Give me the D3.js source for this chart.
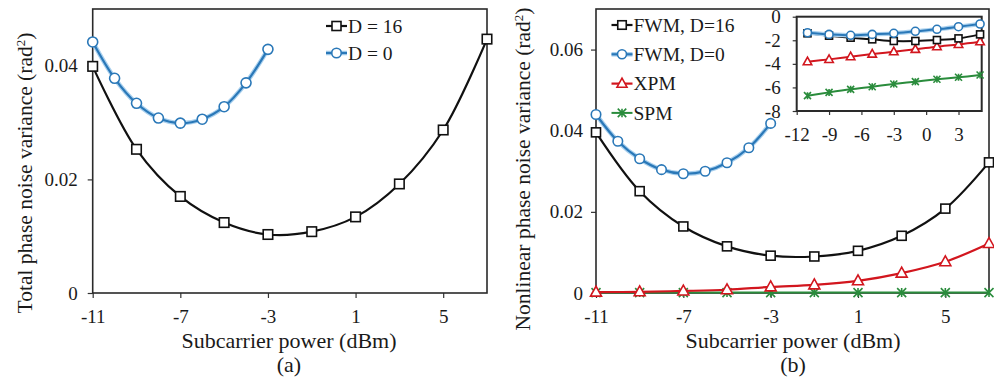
<!DOCTYPE html>
<html>
<head>
<meta charset="utf-8">
<script src="https://cdn.jsdelivr.net/npm/d3@7"></script>
<style>
  body { margin: 0; background: #fff; }
  svg text { font-family: "Liberation Serif", "Times New Roman", serif; fill: #1a1a1a; }
</style>
</head>
<body>
<div id="chart"></div>
<script>
// x values (subcarrier power, dBm)
const powerEven = [-11, -9, -7, -5, -3, -1, 1, 3, 5, 7];
const powerLow = [-11, -10, -9, -8, -7, -6, -5, -4, -3];
const insetPower = [-11, -9, -7, -5, -3, -1, 1, 3, 5];

// (a) total phase noise variance
const totalD16 = [0.0399, 0.0253, 0.0170, 0.0124, 0.0103, 0.0108, 0.0134, 0.0192, 0.0287, 0.0447];
const totalD0 = [0.0442, 0.0378, 0.0334, 0.0308, 0.0299, 0.0306, 0.0328, 0.0370, 0.0429];

// (b) nonlinear phase noise variance
const fwmD16 = [0.0396, 0.0251, 0.0164, 0.0115, 0.0092, 0.0090, 0.0104, 0.0141, 0.0208, 0.0322];
const fwmD0 = [0.0440, 0.0374, 0.0331, 0.0304, 0.0294, 0.0300, 0.0321, 0.0358, 0.0418];
const xpm = [0.0002, 0.0003, 0.0005, 0.0008, 0.0015, 0.0020, 0.0030, 0.0049, 0.0077, 0.0122];
const spm = [0.0001, 0.0001, 0.0001, 0.0001, 0.0001, 0.0001, 0.0001, 0.0001, 0.0001, 0.0001];

// (b) inset, log scale values
const insetFwmD16 = [-1.41, -1.61, -1.78, -1.92, -2.06, -2.06, -1.98, -1.84, -1.50];
const insetFwmD0 = [-1.36, -1.50, -1.58, -1.50, -1.41, -1.24, -1.07, -0.85, -0.62];
const insetXpm = [-3.82, -3.62, -3.39, -3.17, -2.97, -2.77, -2.54, -2.35, -2.12];
const insetSpm = [-6.70, -6.42, -6.16, -5.94, -5.71, -5.51, -5.31, -5.14, -4.95];

// ticks
const mainXTicks = [-11, -7, -3, 1, 5];
const totalYTicks = [0, 0.02, 0.04];
const nonlinYTicks = [0, 0.02, 0.04, 0.06];
const insetXTicks = [-12, -9, -6, -3, 0, 3];
const insetYTicks = [0, -2, -4, -6, -8];

const BLACK = "#111", BLUE = "#2a78b8", HALO = "#a9d0ee", RED = "#d2161e", GREEN = "#2a8c3c";

const svg = d3.select("#chart").append("svg").attr("width", 994).attr("height", 383);

function panel(box, xDomain, yDomain) {
  const x = d3.scaleLinear().domain(xDomain).range([box.left, box.right]);
  const y = d3.scaleLinear().domain(yDomain).range([box.bottom, box.top]);
  return { x, y, box };
}

function drawAxes(p, xTicks, yTicks, o) {
  const fmt = o.fmt || (d => String(d));
  const gx = svg.append("g")
    .attr("transform", "translate(0," + p.box.bottom + ")")
    .call(d3.axisBottom(p.x).tickValues(xTicks).tickSize(o.tick).tickPadding(o.xPad).tickFormat(d => String(d)));
  const gy = svg.append("g")
    .attr("transform", "translate(" + p.box.left + ",0)")
    .call(d3.axisLeft(p.y).tickValues(yTicks).tickSize(o.tick).tickPadding(o.yPad).tickFormat(fmt));
  [gx, gy].forEach(g => {
    g.select(".domain").remove();
    g.selectAll(".tick line").attr("stroke", "#333").attr("stroke-width", 1.2);
    g.selectAll(".tick text").style("font-size", o.font + "px").attr("fill", "#1a1a1a");
  });
  svg.append("rect")
    .attr("x", p.box.left).attr("y", p.box.top)
    .attr("width", p.box.right - p.box.left).attr("height", p.box.bottom - p.box.top)
    .attr("fill", "none").attr("stroke", "#2a2a2a").attr("stroke-width", o.frame || 1.6);
}

function marker(g, kind, cx, cy, color, s) {
  if (kind === "square") {
    g.append("rect").attr("x", cx - s / 2).attr("y", cy - s / 2).attr("width", s).attr("height", s)
      .attr("fill", "#fff").attr("stroke", color).attr("stroke-width", 1.6);
  } else if (kind === "circle") {
    g.append("circle").attr("cx", cx).attr("cy", cy).attr("r", s / 2)
      .attr("fill", "#fff").attr("stroke", color).attr("stroke-width", 1.6);
  } else if (kind === "triangle") {
    const h = s * 0.9;
    g.append("path")
      .attr("d", `M${cx},${cy - h * 0.6}L${cx + s / 2},${cy + h * 0.4}L${cx - s / 2},${cy + h * 0.4}Z`)
      .attr("fill", "#fff").attr("stroke", color).attr("stroke-width", 1.6);
  } else if (kind === "star") {
    const r = s / 2;
    g.append("path")
      .attr("d", `M${cx - r},${cy - r}L${cx + r},${cy + r}M${cx - r},${cy + r}L${cx + r},${cy - r}M${cx},${cy - r}L${cx},${cy + r}`)
      .attr("fill", "none").attr("stroke", color).attr("stroke-width", 1.6);
  }
}

function series(p, xs, ys, st) {
  const g = svg.append("g");
  const pts = xs.map((v, i) => [p.x(v), p.y(ys[i])]);
  const line = d3.line().curve(d3.curveCatmullRom.alpha(0.5));
  if (st.halo) {
    g.append("path").attr("d", line(pts)).attr("fill", "none")
      .attr("stroke", st.halo).attr("stroke-width", st.width + 2.4);
  }
  g.append("path").attr("d", line(pts)).attr("fill", "none")
    .attr("stroke", st.color).attr("stroke-width", st.width);
  pts.forEach(pt => marker(g, st.marker, pt[0], pt[1], st.color, st.size));
}

function legend(x0, y0, dy, items) {
  items.forEach((it, i) => {
    const y = y0 + i * dy;
    const g = svg.append("g");
    if (it.halo) g.append("line").attr("x1", x0).attr("x2", x0 + 21).attr("y1", y).attr("y2", y)
      .attr("stroke", it.halo).attr("stroke-width", it.width + 2.4);
    g.append("line").attr("x1", x0).attr("x2", x0 + 21).attr("y1", y).attr("y2", y)
      .attr("stroke", it.color).attr("stroke-width", it.width);
    marker(g, it.marker, x0 + 10.5, y, it.color, it.size);
    g.append("text").attr("x", x0 + 22).attr("y", y).attr("dy", "0.35em")
      .style("font-size", "19.5px").text(it.label);
  });
}

function yTitle(cx, cy, label) {
  const t = svg.append("text")
    .attr("transform", `translate(${cx},${cy}) rotate(-90)`)
    .attr("text-anchor", "middle").attr("dy", "0.35em")
    .style("font-size", "21.5px");
  t.append("tspan").text(label + " (rad");
  t.append("tspan").attr("baseline-shift", "super").style("font-size", "13px").text("2");
  t.append("tspan").text(")");
}

function xTitle(cx, tag) {
  svg.append("text").attr("x", cx).attr("y", 348).attr("text-anchor", "middle")
    .style("font-size", "22px").text("Subcarrier power (dBm)");
  svg.append("text").attr("x", cx).attr("y", 372).attr("text-anchor", "middle")
    .style("font-size", "22px").text(tag);
}

const fmt2 = d => d === 0 ? "0" : d3.format(".2f")(d);

// ---------- panel (a) ----------
const pa = panel({ left: 92.7, right: 487, top: 9, bottom: 293 }, [-11, 7], [0, 0.05]);
drawAxes(pa, mainXTicks, totalYTicks, { tick: 5, xPad: 12, yPad: 10, font: 19, fmt: fmt2 });
series(pa, powerEven, totalD16, { color: BLACK, width: 2.2, marker: "square", size: 9.5 });
series(pa, powerLow, totalD0, { color: BLUE, halo: HALO, width: 2.2, marker: "circle", size: 10 });
legend(326, 26, 27, [
  { label: "D = 16", color: BLACK, width: 2.2, marker: "square", size: 9 },
  { label: "D = 0", color: BLUE, halo: HALO, width: 2.2, marker: "circle", size: 9.5 }
]);
yTitle(24, 173, "Total phase noise variance");
xTitle(289, "(a)");

// ---------- panel (b) ----------
const pb = panel({ left: 596, right: 989, top: 9, bottom: 293 }, [-11, 7], [0, 0.07]);
drawAxes(pb, mainXTicks, nonlinYTicks, { tick: 5, xPad: 12, yPad: 8, font: 19, fmt: fmt2 });
series(pb, powerEven, spm, { color: GREEN, width: 2, marker: "star", size: 9 });
series(pb, powerEven, xpm, { color: RED, width: 2.2, marker: "triangle", size: 11 });
series(pb, powerEven, fwmD16, { color: BLACK, width: 2.2, marker: "square", size: 9 });
series(pb, powerLow, fwmD0, { color: BLUE, halo: HALO, width: 2.2, marker: "circle", size: 9.5 });
legend(611.5, 25, 29.3, [
  { label: "FWM, D=16", color: BLACK, width: 2.2, marker: "square", size: 8.5 },
  { label: "FWM, D=0", color: BLUE, halo: HALO, width: 2.2, marker: "circle", size: 9 },
  { label: "XPM", color: RED, width: 2.2, marker: "triangle", size: 10 },
  { label: "SPM", color: GREEN, width: 2, marker: "star", size: 8.5 }
]);
yTitle(522, 169, "Nonlinear phase noise variance");
xTitle(793, "(b)");

// ---------- inset ----------
const insetBox = { left: 796.7, right: 981.7, top: 16.7, bottom: 111 };
svg.append("rect").attr("x", insetBox.left).attr("y", insetBox.top)
  .attr("width", insetBox.right - insetBox.left).attr("height", insetBox.bottom - insetBox.top)
  .attr("fill", "#fff");
const pi = panel(insetBox, [-12, 5.15], [-8, 0]);
drawAxes(pi, insetXTicks, insetYTicks, { tick: 4, xPad: 13, yPad: 12, font: 19, frame: 2 });
series(pi, insetPower, insetSpm, { color: GREEN, width: 2, marker: "star", size: 7 });
series(pi, insetPower, insetXpm, { color: RED, width: 2, marker: "triangle", size: 8.5 });
series(pi, insetPower, insetFwmD16, { color: BLACK, width: 2, marker: "square", size: 7 });
series(pi, insetPower, insetFwmD0, { color: BLUE, halo: HALO, width: 2, marker: "circle", size: 8 });
</script>
</body>
</html>
